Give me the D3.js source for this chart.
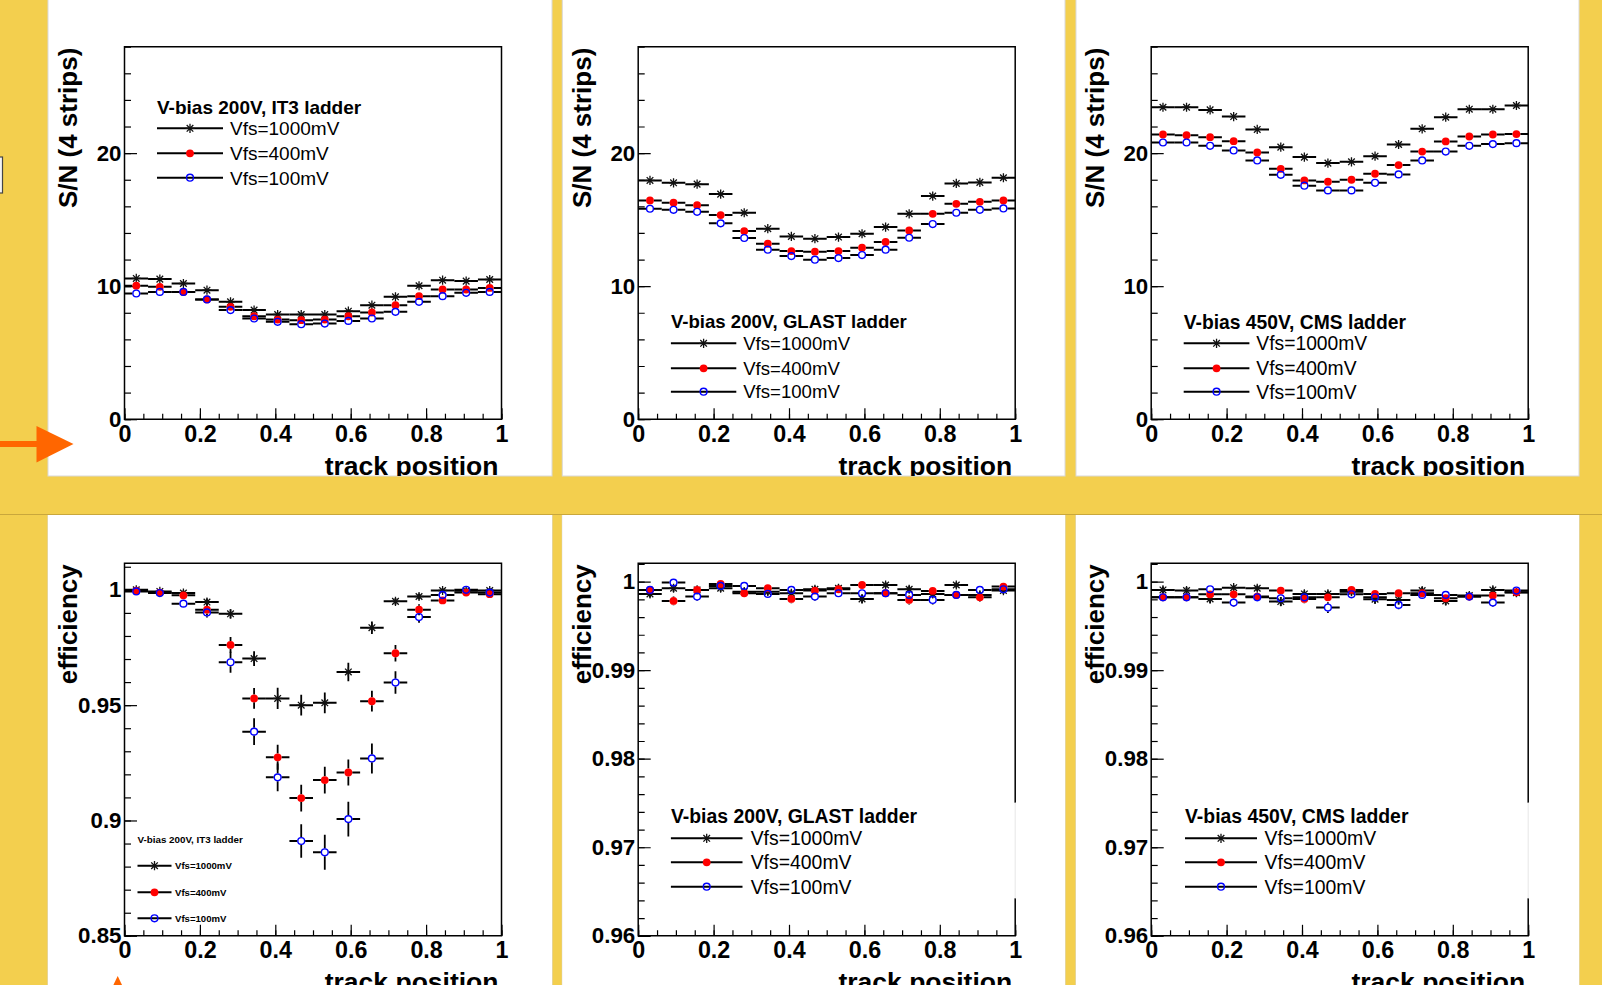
<!DOCTYPE html>
<html>
<head>
<meta charset="utf-8">
<script src="https://cdn.jsdelivr.net/npm/d3@7"></script>
<style>
  body { margin: 0; background: #f3cf4e; }
  text { font-family: "Liberation Sans", Arial, Helvetica, sans-serif; }
</style>
</head>
<body>
<script>
// track position bins (16 bins over 0..1)
const trackPos = [0.03125, 0.09375, 0.15625, 0.21875, 0.28125, 0.34375, 0.40625, 0.46875,
                  0.53125, 0.59375, 0.65625, 0.71875, 0.78125, 0.84375, 0.90625, 0.96875];
const binHalf = 0.03125;

const seriesNames = ["Vfs=1000mV", "Vfs=400mV", "Vfs=100mV"];
const xTicks = [0, 0.2, 0.4, 0.6, 0.8, 1];
const snTicks = [0, 10, 20];
const effIT3Ticks = [0.85, 0.9, 0.95, 1];
const effTicks = [0.96, 0.97, 0.98, 0.99, 1];

// S/N (4 strips)
const snIT3_1000 = [10.58, 10.53, 10.2, 9.7, 8.82, 8.2, 7.87, 7.87, 7.87, 8.12, 8.57, 9.2, 10.03, 10.45, 10.38, 10.5];
const snIT3_400  = [10.03, 9.95, 9.57, 9.0, 8.45, 7.74, 7.49, 7.44, 7.49, 7.74, 8.02, 8.57, 9.25, 9.75, 9.75, 9.87];
const snIT3_100  = [9.45, 9.57, 9.57, 9.0, 8.2, 7.57, 7.32, 7.14, 7.19, 7.39, 7.57, 8.07, 8.82, 9.25, 9.5, 9.57];

const snGLAST_1000 = [17.95, 17.77, 17.67, 16.92, 15.52, 14.32, 13.74, 13.57, 13.69, 13.94, 14.44, 15.44, 16.77, 17.72, 17.8, 18.15];
const snGLAST_400  = [16.44, 16.27, 16.09, 15.34, 14.14, 13.19, 12.64, 12.59, 12.64, 12.89, 13.32, 14.19, 15.44, 16.19, 16.34, 16.44];
const snGLAST_100  = [15.82, 15.74, 15.59, 14.72, 13.62, 12.74, 12.26, 11.99, 12.11, 12.34, 12.74, 13.64, 14.67, 15.52, 15.74, 15.84];

const snCMS_1000 = [23.45, 23.45, 23.25, 22.75, 21.78, 20.45, 19.7, 19.25, 19.35, 19.77, 20.65, 21.83, 22.7, 23.3, 23.3, 23.58];
const snCMS_400  = [21.4, 21.35, 21.2, 20.9, 20.05, 18.82, 17.95, 17.85, 18.0, 18.45, 19.1, 20.12, 20.88, 21.25, 21.4, 21.43];
const snCMS_100  = [20.8, 20.8, 20.55, 20.2, 19.45, 18.37, 17.55, 17.2, 17.2, 17.77, 18.4, 19.45, 20.12, 20.55, 20.68, 20.75];

// efficiency + errors
const effIT3_1000 = [1.0, 0.9993, 0.9986, 0.9947, 0.9896, 0.9702, 0.9529, 0.95, 0.951, 0.9644, 0.9836, 0.995, 0.9971, 0.9997, 0.9996, 0.9997];
const errIT3_1000 = [0.001, 0.001, 0.0012, 0.0015, 0.002, 0.0032, 0.0046, 0.0045, 0.0045, 0.004, 0.0027, 0.0015, 0.0013, 0.001, 0.001, 0.001];
const effIT3_400  = [0.9996, 0.9988, 0.9976, 0.9914, 0.9761, 0.9529, 0.9274, 0.9097, 0.9175, 0.9208, 0.9517, 0.9725, 0.9914, 0.9954, 0.9988, 0.9981];
const errIT3_400  = [0.001, 0.001, 0.0013, 0.0024, 0.0034, 0.0045, 0.0054, 0.0058, 0.0058, 0.0056, 0.0045, 0.0036, 0.0024, 0.0015, 0.001, 0.001];
const effIT3_100  = [0.9993, 0.9986, 0.994, 0.9902, 0.9686, 0.9385, 0.9187, 0.8911, 0.8862, 0.9006, 0.9269, 0.9598, 0.9882, 0.9978, 1.0, 0.9988];
const errIT3_100  = [0.001, 0.001, 0.0017, 0.0022, 0.0045, 0.0058, 0.006, 0.0073, 0.0076, 0.0075, 0.0065, 0.0049, 0.0025, 0.0015, 0.001, 0.001];

const effGLAST_1000 = [0.99861, 0.99925, 0.99906, 0.99925, 0.99887, 0.99887, 0.99869, 0.99914, 0.99925, 0.99805, 0.99962, 0.99914, 0.99861, 0.99962, 0.9985, 0.99899];
const errGLAST_1000 = [0.0004, 0.0004, 0.0004, 0.0004, 0.0004, 0.0004, 0.0004, 0.0004, 0.0004, 0.0005, 0.0003, 0.0004, 0.0004, 0.0003, 0.0004, 0.0004];
const effGLAST_400  = [0.99906, 0.99782, 0.99906, 0.99974, 0.99869, 0.99925, 0.99805, 0.99899, 0.99914, 0.99962, 0.99869, 0.99793, 0.99895, 0.9985, 0.99823, 0.99944];
const errGLAST_400  = [0.0004, 0.0005, 0.0004, 0.0003, 0.0004, 0.0004, 0.0005, 0.0004, 0.0004, 0.0003, 0.0004, 0.0005, 0.0004, 0.0004, 0.0005, 0.0003];
const effGLAST_100  = [0.99906, 0.99989, 0.99831, 0.99951, 0.99951, 0.99861, 0.99906, 0.99831, 0.99869, 0.99869, 0.99869, 0.9985, 0.99793, 0.9985, 0.99906, 0.99914];
const errGLAST_100  = [0.0004, 0.0002, 0.0005, 0.0003, 0.0003, 0.0004, 0.0004, 0.0005, 0.0004, 0.0004, 0.0004, 0.0004, 0.0005, 0.0004, 0.0004, 0.0004];

const effCMS_1000 = [0.99906, 0.99899, 0.99805, 0.99932, 0.99925, 0.99775, 0.99861, 0.99861, 0.99887, 0.99801, 0.99793, 0.99899, 0.99782, 0.99842, 0.99906, 0.99876];
const errCMS_1000 = [0.0004, 0.0004, 0.0005, 0.0003, 0.0003, 0.0005, 0.0004, 0.0004, 0.0004, 0.0005, 0.0005, 0.0004, 0.0005, 0.0004, 0.0004, 0.0004];
const effCMS_400  = [0.99823, 0.99823, 0.99857, 0.99857, 0.99831, 0.99899, 0.99805, 0.99823, 0.99906, 0.99861, 0.99869, 0.99869, 0.99812, 0.99831, 0.99842, 0.9988];
const errCMS_400  = [0.0004, 0.0004, 0.0004, 0.0004, 0.0004, 0.0004, 0.0005, 0.0004, 0.0004, 0.0004, 0.0004, 0.0004, 0.0004, 0.0004, 0.0004, 0.0004];
const effCMS_100  = [0.99823, 0.99823, 0.99914, 0.99763, 0.99823, 0.99812, 0.99823, 0.99707, 0.99857, 0.99823, 0.99737, 0.9985, 0.9985, 0.99831, 0.99763, 0.99899];
const errCMS_100  = [0.0004, 0.0004, 0.0004, 0.0005, 0.0004, 0.0004, 0.0004, 0.0006, 0.0004, 0.0004, 0.0005, 0.0004, 0.0004, 0.0004, 0.0005, 0.0004];

const W = 1602, H = 985;
const yellow = "#f3cf4e";

const svg = d3.select("body").append("svg").attr("width", W).attr("height", H);
svg.append("rect").attr("width", W).attr("height", H).attr("fill", yellow);

// white slide panels (columns x rows)
const colBox = [[48, 552], [562.3, 1065], [1076, 1579]];
const rowBox = [[-2, 476], [515, 995]];
const frameLeft = [124.5, 638.2, 1151.2];
const frameW = 377;
const frameTop = [46.7, 563.3];
const frameH = 372.5;

const panels = [
  { col: 0, row: 0, ytitle: "S/N (4 strips)", ydom: [0, 28], yticks: snTicks, ystep: 2,
    data: [snIT3_1000, snIT3_400, snIT3_100], errs: null,
    leg: { title: "V-bias 200V, IT3 ladder", x: 157, y: 107, lineW: 66, textDx: 73, dy: [21.3, 46.3, 70.7], fs: 19, efs: 19, bold: false } },
  { col: 1, row: 0, ytitle: "S/N (4 strips)", ydom: [0, 28], yticks: snTicks, ystep: 2,
    data: [snGLAST_1000, snGLAST_400, snGLAST_100], errs: null,
    leg: { title: "V-bias 200V, GLAST ladder", x: 670.9, y: 321.7, lineW: 65.4, textDx: 72.3, dy: [21.6, 46.6, 70], fs: 18.6, efs: 18.6, bold: false } },
  { col: 2, row: 0, ytitle: "S/N (4 strips)", ydom: [0, 28], yticks: snTicks, ystep: 2,
    data: [snCMS_1000, snCMS_400, snCMS_100], errs: null,
    leg: { title: "V-bias 450V, CMS ladder", x: 1183.7, y: 321.7, lineW: 65.7, textDx: 72.6, dy: [21.6, 46.6, 70], fs: 19.3, efs: 19.3, bold: false } },
  { col: 0, row: 1, ytitle: "efficiency", ydom: [0.85, 1.0115], yticks: effIT3Ticks, ystep: 0.01,
    data: [effIT3_1000, effIT3_400, effIT3_100], errs: [errIT3_1000, errIT3_400, errIT3_100],
    leg: { title: "V-bias 200V, IT3 ladder", x: 137.5, y: 839, lineW: 34, textDx: 37.5, dy: [26.7, 53.3, 79.3], fs: 9.8, efs: 9.6, bold: true } },
  { col: 1, row: 1, ytitle: "efficiency", ydom: [0.96, 1.00207], yticks: effTicks, ystep: 0.002,
    data: [effGLAST_1000, effGLAST_400, effGLAST_100], errs: [errGLAST_1000, errGLAST_400, errGLAST_100],
    leg: { title: "V-bias 200V, GLAST ladder", x: 670.9, y: 816, lineW: 71.6, textDx: 79.8, dy: [22.3, 46.3, 70.7], fs: 19.4, efs: 19.4, bold: false, box: [802.7, 898.3] } },
  { col: 2, row: 1, ytitle: "efficiency", ydom: [0.96, 1.00207], yticks: effTicks, ystep: 0.002,
    data: [effCMS_1000, effCMS_400, effCMS_100], errs: [errCMS_1000, errCMS_400, errCMS_100],
    leg: { title: "V-bias 450V, CMS ladder", x: 1185, y: 816, lineW: 72, textDx: 79.6, dy: [22.3, 46.3, 70.7], fs: 19.4, efs: 19.4, bold: false, box: [802.7, 898.3] } }
];

const markerR = 3.9;
function starPath(cx, cy, r) {
  const d = r * 0.72;
  return `M${cx - r},${cy}H${cx + r}M${cx},${cy - r}V${cy + r}` +
         `M${cx - d},${cy - d}L${cx + d},${cy + d}M${cx - d},${cy + d}L${cx + d},${cy - d}`;
}
function drawMarker(g, kind, cx, cy) {
  if (kind === 0) {
    g.append("path").attr("d", starPath(cx, cy, 4.6)).attr("stroke", "#111").attr("stroke-width", 1.3).attr("fill", "none");
  } else if (kind === 1) {
    g.append("circle").attr("cx", cx).attr("cy", cy).attr("r", markerR).attr("fill", "#ff0000");
  } else {
    g.append("circle").attr("cx", cx).attr("cy", cy).attr("r", markerR - 0.5)
      .attr("fill", "none").attr("stroke", "#0000ff").attr("stroke-width", 1.4);
  }
}

// panel backgrounds with a faint edge
panels.forEach(p => {
  const [x0, x1] = colBox[p.col], [y0, y1] = rowBox[p.row];
  svg.append("rect").attr("x", x0).attr("y", y0).attr("width", x1 - x0).attr("height", y1 - y0)
    .attr("fill", "#fff").attr("stroke", "#d9d9d9").attr("stroke-width", 1);
  svg.append("clipPath").attr("id", `clip${p.col}${p.row}`)
    .append("rect").attr("x", x0).attr("y", y0).attr("width", x1 - x0).attr("height", y1 - y0);
});
// shadow line on top of the lower row
svg.append("line").attr("x1", 0).attr("x2", W).attr("y1", 514.5).attr("y2", 514.5)
  .attr("stroke", "#c9a73c").attr("stroke-width", 1);
colBox.forEach(([x0, x1]) => {
  svg.append("rect").attr("x", x0).attr("y", 515).attr("width", x1 - x0).attr("height", H - 515).attr("fill", "#fff");
});

panels.forEach(p => {
  const g = svg.append("g").attr("clip-path", `url(#clip${p.col}${p.row})`);
  const fx = frameLeft[p.col], fy = frameTop[p.row];
  const x = d3.scaleLinear().domain([0, 1]).range([fx, fx + frameW]);
  const y = d3.scaleLinear().domain(p.ydom).range([fy + frameH, fy]);

  // minor ticks
  const xMinor = d3.range(0, 1.0001, 0.05);
  g.append("g").attr("transform", `translate(0,${fy + frameH})`)
    .call(d3.axisBottom(x).tickValues(xMinor).tickSize(-5.5).tickFormat(""))
    .call(a => a.select(".domain").remove())
    .selectAll("line").attr("stroke", "#000").attr("stroke-width", 1.2);
  const yMinor = d3.range(p.ydom[0], p.ydom[1] + 1e-9, p.ystep);
  g.append("g").attr("transform", `translate(${fx},0)`)
    .call(d3.axisLeft(y).tickValues(yMinor).tickSize(-6.5).tickFormat(""))
    .call(a => a.select(".domain").remove())
    .selectAll("line").attr("stroke", "#000").attr("stroke-width", 1.2);

  // major ticks + labels
  const xa = g.append("g").attr("transform", `translate(0,${fy + frameH})`)
    .call(d3.axisBottom(x).tickValues(xTicks).tickSize(-11).tickPadding(6).tickFormat(d => String(d)));
  xa.select(".domain").remove();
  xa.selectAll("line").attr("stroke", "#000").attr("stroke-width", 1.2);
  xa.selectAll("text").attr("font-size", 23.3).attr("font-weight", "bold").attr("fill", "#000");

  const ya = g.append("g").attr("transform", `translate(${fx},0)`)
    .call(d3.axisLeft(y).tickValues(p.yticks).tickSize(-12.5).tickPadding(3).tickFormat(d => String(d)));
  ya.select(".domain").remove();
  ya.selectAll("line").attr("stroke", "#000").attr("stroke-width", 1.2);
  ya.selectAll("text").attr("font-size", 22.3).attr("font-weight", "bold").attr("fill", "#000");

  // axis titles
  g.append("text").attr("transform", `translate(${fx - 47.5},${fy + 1}) rotate(-90)`)
    .attr("text-anchor", "end").attr("font-size", 26).attr("font-weight", "bold").text(p.ytitle);
  g.append("text").attr("x", fx + frameW - 3).attr("y", fy + frameH + 55.5)
    .attr("text-anchor", "end").attr("font-size", 26.5).attr("font-weight", "bold").text("track position");

  // data: error bars + markers (1000mV, 400mV, 100mV)
  const gd = g.append("g");
  p.data.forEach((vals, k) => {
    vals.forEach((v, i) => {
      const cx = x(trackPos[i]), cy = y(v);
      const xl = x(trackPos[i] - binHalf), xr = x(trackPos[i] + binHalf);
      const gap = k === 0 ? 0 : markerR;
      gd.append("path")
        .attr("d", `M${xl},${cy}H${cx - gap}M${cx + gap},${cy}H${xr}`)
        .attr("stroke", "#000").attr("stroke-width", 2);
      if (p.errs) {
        const e = p.errs[k][i];
        const yt = y(v + e), yb = y(v - e);
        if (yb - yt > 2 * gap) {
          gd.append("path")
            .attr("d", `M${cx},${yt}V${cy - gap}M${cx},${cy + gap}V${yb}`)
            .attr("stroke", "#000").attr("stroke-width", 1.8);
        }
      }
    });
  });
  p.data.forEach((vals, k) => {
    vals.forEach((v, i) => drawMarker(gd, k, x(trackPos[i]), y(v)));
  });

  // legend
  const L = p.leg;
  if (L.box) {
    g.append("rect").attr("x", L.x - 4).attr("y", L.box[0]).attr("width", fx + frameW + 2 - (L.x - 4))
      .attr("height", L.box[1] - L.box[0]).attr("fill", "#fff");
  }
  // frame (right edge interrupted where the legend box covers it)
  const fr = g.append("path")
    .attr("fill", "none").attr("stroke", "#000").attr("stroke-width", 1.5);
  if (L.box) {
    const xr = fx + frameW;
    fr.attr("d", `M${xr},${L.box[0]}V${fy}H${fx}V${fy + frameH}H${xr}V${L.box[1]}`);
    g.append("line").attr("x1", xr).attr("x2", xr).attr("y1", L.box[0]).attr("y2", L.box[1])
      .attr("stroke", "#e6e6e6").attr("stroke-width", 1);
  } else {
    fr.attr("d", `M${fx},${fy}H${fx + frameW}V${fy + frameH}H${fx}Z`);
  }

  g.append("text").attr("x", L.x).attr("y", L.y + 0.36 * L.fs)
    .attr("font-size", L.fs).attr("font-weight", "bold").text(L.title);
  seriesNames.forEach((name, k) => {
    const ly = L.y + L.dy[k];
    g.append("line").attr("x1", L.x).attr("x2", L.x + L.lineW).attr("y1", ly).attr("y2", ly)
      .attr("stroke", "#000").attr("stroke-width", 2);
    drawMarker(g, k, L.x + L.lineW / 2, ly);
    g.append("text").attr("x", L.x + L.textDx).attr("y", ly + 0.36 * L.efs)
      .attr("font-size", L.efs).attr("font-weight", L.bold ? "bold" : "normal").text(name);
  });
});

// slide decorations: orange arrow, small triangle, clipped box edge
const orange = "#ff6600";
svg.append("rect").attr("x", 0).attr("y", 441).attr("width", 38).attr("height", 6).attr("fill", orange);
svg.append("path").attr("d", "M36.5,426L73.5,444L36.5,462.5Z").attr("fill", orange);
svg.append("path").attr("d", "M117.7,976L122.5,986L112.9,986Z").attr("fill", orange);
svg.append("rect").attr("x", -4).attr("y", 157).attr("width", 6.5).attr("height", 36)
  .attr("fill", "#f4f4f4").attr("stroke", "#444").attr("stroke-width", 1.2);
</script>
</body>
</html>
